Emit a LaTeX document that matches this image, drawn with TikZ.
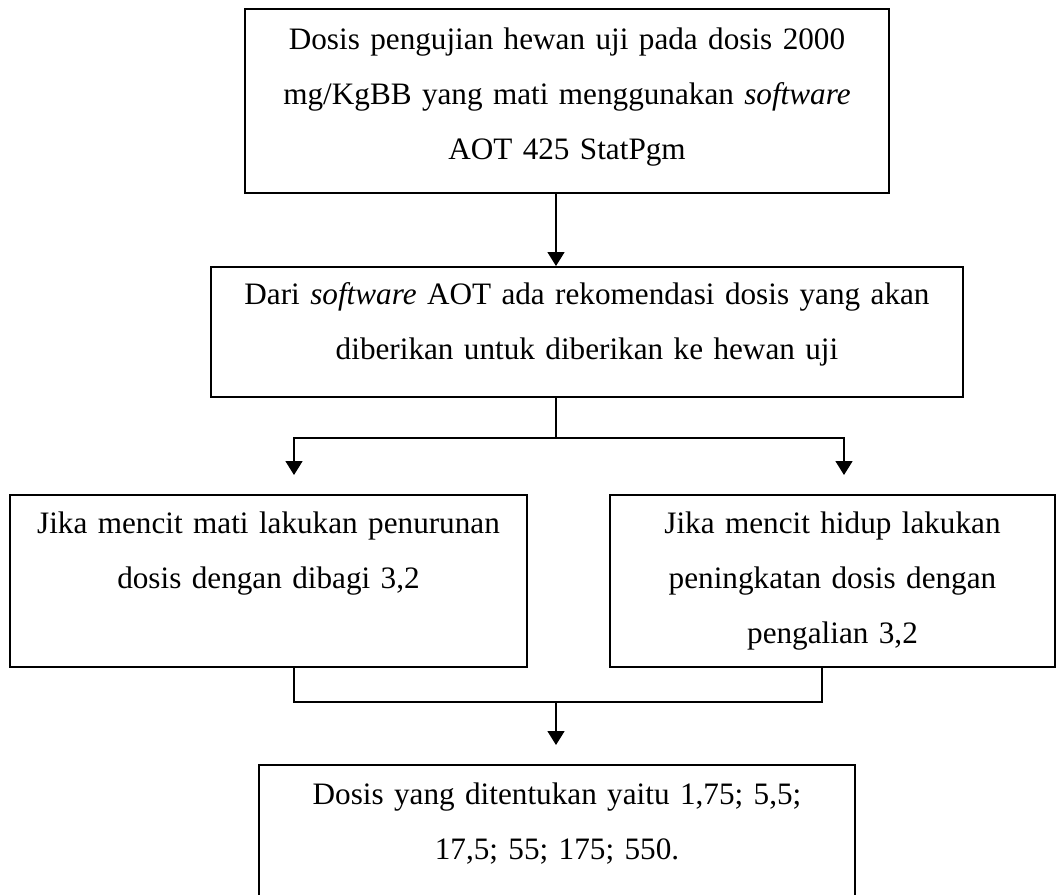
\documentclass[tikz,border=0pt]{standalone}
\usepackage{fontspec}
\setmainfont{Liberation Serif}
\usepackage{tikz}
\usetikzlibrary{arrows.meta}

\tikzset{
    box/.style={draw, line width=1pt, inner sep=0pt, anchor=north west, align=center,
        font=\fontsize{15.6pt}{27.6pt}\selectfont},
    link/.style={line width=0.8pt},
    arr/.style={link, -{Triangle[length=7pt,width=8.5pt]}},
}

\begin{document}
\begin{tikzpicture}[x=0.5pt,y=-0.5pt]
    \def\Mid{556}
    \useasboundingbox (0,0) rectangle (1056,895);
    % kotak-kotak bagan, teks rata atas
    \node[box, text width=322pt, text height=20pt, text depth=72pt] (uji) at (244,8)
        {Dosis pengujian hewan uji pada dosis 2000\\ mg/KgBB yang mati menggunakan \textit{software}\\ AOT 425 StatPgm};
    \node[box, text width=376pt, text height=18.5pt, text depth=46.5pt] (aot) at (210,266)
        {Dari \textit{software} AOT ada rekomendasi dosis yang akan\\ diberikan untuk diberikan ke hewan uji};
    \node[box, text width=258.5pt, text height=19pt, text depth=67pt] (turun) at (9,494)
        {Jika mencit mati lakukan penurunan\\ dosis dengan dibagi 3,2};
    \node[box, text width=222.5pt, text height=19pt, text depth=67pt] (naik) at (609,494)
        {Jika mencit hidup lakukan\\ peningkatan dosis dengan\\ pengalian 3,2};
    \node[box, text width=298pt, text height=19.5pt, text depth=52pt] (hasil) at (258,764)
        {Dosis yang ditentukan yaitu 1,75; 5,5;\\ 17,5; 55; 175; 550.};

    \coordinate (split) at (\Mid,438);
    \coordinate (join) at (\Mid,702);
    \coordinate (toL) at (294,475);
    \coordinate (toR) at (844,475);
    \coordinate (colR) at (822,702);
    \coordinate (toEnd) at (\Mid,745);

    \draw[arr] (uji.south -| split) -- (aot.north -| split);
    \draw[link] (aot.south -| split) -- (split);
    \draw[arr] (split) -| (toL);
    \draw[arr] (split) -| (toR);
    \draw[link] (turun.south -| toL) |- (colR) -- (colR |- naik.south);
    \draw[arr] (join) -- (toEnd);
\end{tikzpicture}
\end{document}
